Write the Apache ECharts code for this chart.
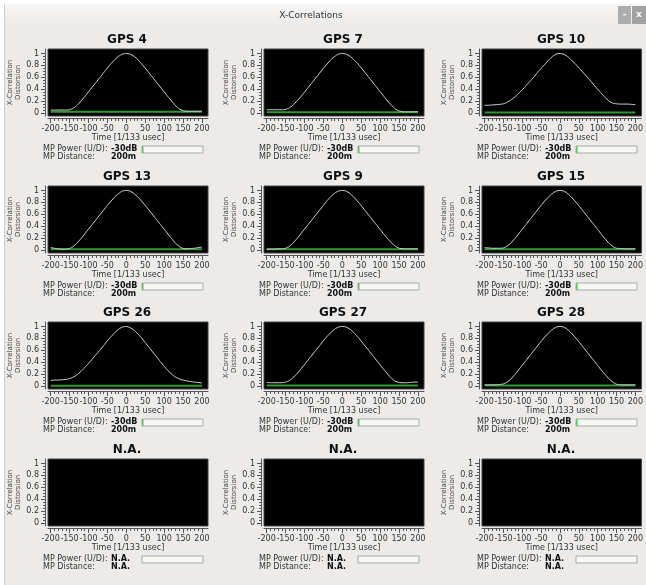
<!DOCTYPE html>
<html>
<head>
<meta charset="utf-8">
<title>X-Correlations</title>
<script src="https://cdn.jsdelivr.net/npm/echarts@6/dist/echarts.min.js"></script>
<style>
  html, body { margin: 0; padding: 0; background: #fff; }
  #xcorr { width: 646px; height: 585px; }
</style>
</head>
<body>
<div id="xcorr"></div>
<script>
// time lag in 1/133 usec, one sample every 10
const timeLags = [-200, -190, -180, -170, -160, -150, -140, -130, -120, -110, -100, -90, -80, -70, -60, -50, -40, -30, -20, -10,
  0, 10, 20, 30, 40, 50, 60, 70, 80, 90, 100, 110, 120, 130, 140, 150, 160, 170, 180, 190, 200];

// correlation curves
const gps4 = [0.05, 0.05, 0.05, 0.05, 0.05, 0.055, 0.08, 0.13, 0.2, 0.275, 0.355, 0.435, 0.515, 0.595, 0.675, 0.755, 0.83, 0.9, 0.955, 0.99,
  1.0, 0.99, 0.955, 0.9, 0.83, 0.755, 0.675, 0.595, 0.515, 0.435, 0.355, 0.275, 0.2, 0.125, 0.07, 0.04, 0.03, 0.03, 0.03, 0.03, 0.03];
const gps7 = [0.055, 0.055, 0.055, 0.055, 0.055, 0.06, 0.085, 0.135, 0.2, 0.27, 0.35, 0.43, 0.51, 0.59, 0.67, 0.75, 0.825, 0.895, 0.95, 0.99,
  1.0, 0.99, 0.955, 0.9, 0.835, 0.76, 0.68, 0.6, 0.52, 0.44, 0.36, 0.28, 0.2, 0.13, 0.07, 0.035, 0.02, 0.02, 0.02, 0.02, 0.025];
const gps10 = [0.13, 0.13, 0.135, 0.14, 0.145, 0.155, 0.18, 0.22, 0.27, 0.33, 0.39, 0.46, 0.53, 0.6, 0.68, 0.75, 0.82, 0.89, 0.95, 0.99,
  1.0, 0.985, 0.95, 0.89, 0.83, 0.76, 0.69, 0.62, 0.55, 0.47, 0.4, 0.33, 0.26, 0.2, 0.165, 0.155, 0.15, 0.15, 0.15, 0.145, 0.14];
const gps13 = [0.04, 0.03, 0.02, 0.015, 0.015, 0.025, 0.06, 0.12, 0.19, 0.27, 0.35, 0.43, 0.51, 0.59, 0.67, 0.75, 0.825, 0.895, 0.95, 0.99,
  1.0, 0.99, 0.95, 0.895, 0.825, 0.75, 0.67, 0.59, 0.51, 0.43, 0.35, 0.27, 0.19, 0.115, 0.06, 0.025, 0.02, 0.025, 0.03, 0.04, 0.05];
const gps9 = [0.015, 0.015, 0.015, 0.02, 0.02, 0.03, 0.06, 0.12, 0.19, 0.27, 0.35, 0.43, 0.51, 0.59, 0.67, 0.75, 0.83, 0.9, 0.955, 0.99,
  1.0, 0.99, 0.95, 0.89, 0.82, 0.745, 0.665, 0.585, 0.505, 0.425, 0.345, 0.265, 0.19, 0.12, 0.065, 0.03, 0.02, 0.02, 0.02, 0.02, 0.02];
const gps15 = [0.04, 0.035, 0.03, 0.03, 0.03, 0.035, 0.065, 0.12, 0.19, 0.27, 0.35, 0.43, 0.51, 0.59, 0.67, 0.75, 0.825, 0.895, 0.95, 0.99,
  1.0, 0.99, 0.95, 0.89, 0.82, 0.745, 0.665, 0.585, 0.505, 0.425, 0.345, 0.265, 0.185, 0.115, 0.06, 0.03, 0.025, 0.02, 0.02, 0.02, 0.02];
const gps26 = [0.09, 0.1, 0.1, 0.105, 0.11, 0.125, 0.15, 0.19, 0.245, 0.31, 0.38, 0.45, 0.53, 0.6, 0.68, 0.76, 0.83, 0.9, 0.955, 0.99,
  1.0, 0.98, 0.94, 0.88, 0.81, 0.73, 0.65, 0.57, 0.49, 0.41, 0.33, 0.26, 0.2, 0.15, 0.12, 0.1, 0.085, 0.075, 0.065, 0.06, 0.05];
const gps27 = [0.06, 0.055, 0.055, 0.055, 0.055, 0.065, 0.09, 0.14, 0.205, 0.28, 0.36, 0.44, 0.52, 0.6, 0.68, 0.76, 0.835, 0.9, 0.955, 0.99,
  1.0, 0.99, 0.955, 0.9, 0.83, 0.755, 0.675, 0.595, 0.515, 0.435, 0.355, 0.275, 0.2, 0.13, 0.08, 0.06, 0.055, 0.055, 0.06, 0.065, 0.065];
const gps28 = [0.02, 0.02, 0.02, 0.02, 0.025, 0.035, 0.065, 0.12, 0.19, 0.27, 0.35, 0.43, 0.51, 0.59, 0.67, 0.75, 0.825, 0.895, 0.95, 0.99,
  1.0, 0.99, 0.95, 0.89, 0.82, 0.745, 0.665, 0.585, 0.505, 0.425, 0.345, 0.265, 0.19, 0.12, 0.065, 0.03, 0.02, 0.02, 0.02, 0.02, 0.02];

const panelTitles = ['GPS 4', 'GPS 7', 'GPS 10', 'GPS 13', 'GPS 9', 'GPS 15', 'GPS 26', 'GPS 27', 'GPS 28', 'N.A.', 'N.A.', 'N.A.'];
const xcorr = [gps4, gps7, gps10, gps13, gps9, gps15, gps26, gps27, gps28, null, null, null];
// green multipath line level
const mpLevel = [0.02, 0.015, 0.01, 0.015, 0.015, 0.015, 0.005, 0.01, 0.01, null, null, null];
const mpPower = ['-30dB', '-30dB', '-30dB', '-30dB', '-30dB', '-30dB', '-30dB', '-30dB', '-30dB', 'N.A.', 'N.A.', 'N.A.'];
const mpDistance = ['200m', '200m', '200m', '200m', '200m', '200m', '200m', '200m', '200m', 'N.A.', 'N.A.', 'N.A.'];
const mpBar = [0.025, 0.025, 0.025, 0.025, 0.025, 0.025, 0.025, 0.025, 0.025, 0, 0, 0];

const timeLabels = [-200, -150, -100, -50, 0, 50, 100, 150, 200];
const corrLabels = [0, 0.2, 0.4, 0.6, 0.8, 1];
const corrMinor = [0, 0.05, 0.1, 0.15, 0.2, 0.25, 0.3, 0.35, 0.4, 0.45, 0.5, 0.55, 0.6, 0.65, 0.7, 0.75, 0.8, 0.85, 0.9, 0.95, 1];

// panel layout
const colLeft = [48, 264, 482];
const rowTop = [49, 186, 322, 459];
const plotW = 160, plotH = 67;
const FONT = '"DejaVu Sans", sans-serif';

const chart = echarts.init(document.getElementById('xcorr'));

const grid = [], xAxis = [], yAxis = [], series = [];
const graphic = [
  // window frame
  { type: 'rect', shape: { x: 0, y: 0, width: 646, height: 4 }, style: { fill: '#ffffff' } },
  { type: 'rect', shape: { x: 0, y: 0, width: 4, height: 585 }, style: { fill: '#ffffff' } },
  { type: 'rect', shape: { x: 4, y: 4, width: 642, height: 22 },
    style: { fill: new echarts.graphic.LinearGradient(0, 0, 0, 1, [{ offset: 0, color: '#f7f6f5' }, { offset: 1, color: '#edebe9' }]) } },
  { type: 'line', shape: { x1: 4.5, y1: 4, x2: 4.5, y2: 585 }, style: { stroke: '#cfcdcb', lineWidth: 1 } },
  { type: 'text', x: 311, y: 16, style: { text: 'X-Correlations', font: '9px ' + FONT, fill: '#333', align: 'center', verticalAlign: 'middle' } },
  { type: 'rect', shape: { x: 618, y: 6, width: 13, height: 18 }, style: { fill: '#adadad' } },
  { type: 'rect', shape: { x: 632, y: 6, width: 14, height: 18 }, style: { fill: '#a2a2a2' } },
  { type: 'text', x: 624.5, y: 15, style: { text: '-', font: 'bold 9px ' + FONT, fill: '#fff', align: 'center', verticalAlign: 'middle' } },
  { type: 'text', x: 639, y: 15, style: { text: 'x', font: 'bold 9px ' + FONT, fill: '#fff', align: 'center', verticalAlign: 'middle' } }
];

const tickColor = '#555';
const labelStyle = { fontSize: 8, color: '#333', fontFamily: FONT };

panelTitles.forEach((title, i) => {
  const left = colLeft[i % 3];
  const top = rowTop[Math.floor(i / 3)];
  const g = grid.length;
  const xi = xAxis.length;
  const yi = yAxis.length;

  grid.push({ left: left, top: top, width: plotW, height: plotH, show: true,
    backgroundColor: '#000', borderColor: '#444', borderWidth: 1 });
  grid.push({ left: left + 94, top: top + 97, width: 61, height: 7 });

  // time axis: labelled ticks + minor ruler ticks
  xAxis.push({
    gridIndex: g, type: 'value', min: -207, max: 216, position: 'bottom', offset: 2,
    axisLine: { show: true, onZero: false, lineStyle: { color: tickColor, width: 1 } },
    axisTick: { show: true, length: 5, customValues: timeLabels, lineStyle: { color: tickColor } },
    axisLabel: Object.assign({ show: true, customValues: timeLabels, margin: 7 }, labelStyle),
    splitLine: { show: false },
    name: 'Time [1/133 usec]', nameLocation: 'middle', nameGap: 14,
    nameTextStyle: { fontSize: 8, color: '#333', fontFamily: FONT }
  });
  xAxis.push({
    gridIndex: g, type: 'value', min: -207, max: 216, position: 'bottom', offset: 2,
    axisLine: { show: false, onZero: false },
    axisTick: { show: true, length: 3, customValues: timeLags, lineStyle: { color: tickColor } },
    axisLabel: { show: false }, splitLine: { show: false }
  });
  xAxis.push({ gridIndex: g + 1, type: 'value', min: 0, max: 1, show: false });

  yAxis.push({
    gridIndex: g, type: 'value', min: -0.05, max: 1.075, position: 'left', offset: 3,
    axisLine: { show: true, onZero: false, lineStyle: { color: tickColor, width: 1 } },
    axisTick: { show: true, length: 4, customValues: corrLabels, lineStyle: { color: tickColor } },
    axisLabel: Object.assign({ show: true, customValues: corrLabels, margin: 6 }, labelStyle),
    splitLine: { show: false },
    name: 'X-Correlation\nDistorsion', nameLocation: 'middle', nameGap: 22,
    nameTextStyle: { fontSize: 7, lineHeight: 8, color: '#444', fontFamily: FONT }
  });
  yAxis.push({
    gridIndex: g, type: 'value', min: -0.05, max: 1.075, position: 'left', offset: 3,
    axisLine: { show: false, onZero: false },
    axisTick: { show: true, length: 2, customValues: corrMinor, lineStyle: { color: tickColor } },
    axisLabel: { show: false }, splitLine: { show: false }
  });
  yAxis.push({ gridIndex: g + 1, type: 'category', data: ['mp'], show: false });

  if (xcorr[i]) {
    series.push({
      type: 'line', xAxisIndex: xi, yAxisIndex: yi, silent: true, showSymbol: false,
      data: [[timeLags[0], mpLevel[i]], [timeLags[timeLags.length - 1], mpLevel[i]]],
      lineStyle: { color: '#2f9a2f', width: 2 }, z: 2
    });
    series.push({
      type: 'line', xAxisIndex: xi, yAxisIndex: yi, silent: true, showSymbol: false, smooth: 0.2,
      data: timeLags.map((t, k) => [t, xcorr[i][k]]),
      lineStyle: { color: '#dcdcdc', width: 1 }, z: 3
    });
  }

  // multipath power gauge
  series.push({
    type: 'bar', xAxisIndex: xi + 2, yAxisIndex: yi + 2, silent: true,
    data: [mpBar[i]], barWidth: '100%', showBackground: true,
    backgroundStyle: { color: '#f7f7f5', borderColor: '#a8a8a8', borderWidth: 1 },
    itemStyle: { color: '#58c658' }
  });

  graphic.push(
    { type: 'text', x: left + 79, y: top - 9,
      style: { text: title, font: 'bold 12px ' + FONT, fill: '#111', align: 'center', verticalAlign: 'middle' } },
    { type: 'text', x: left - 5, y: top + 100,
      style: { text: 'MP Power (U/D):', font: '8px ' + FONT, fill: '#333', verticalAlign: 'middle' } },
    { type: 'text', x: left + 63, y: top + 100,
      style: { text: mpPower[i], font: 'bold 8px ' + FONT, fill: '#111', verticalAlign: 'middle' } },
    { type: 'text', x: left - 5, y: top + 107.5,
      style: { text: 'MP Distance:', font: '8px ' + FONT, fill: '#333', verticalAlign: 'middle' } },
    { type: 'text', x: left + 63, y: top + 107.5,
      style: { text: mpDistance[i], font: 'bold 8px ' + FONT, fill: '#111', verticalAlign: 'middle' } }
  );
});

chart.setOption({
  backgroundColor: '#edebe9',
  animation: false,
  textStyle: { fontFamily: FONT },
  grid: grid,
  xAxis: xAxis,
  yAxis: yAxis,
  series: series,
  graphic: graphic
});
</script>
</body>
</html>
